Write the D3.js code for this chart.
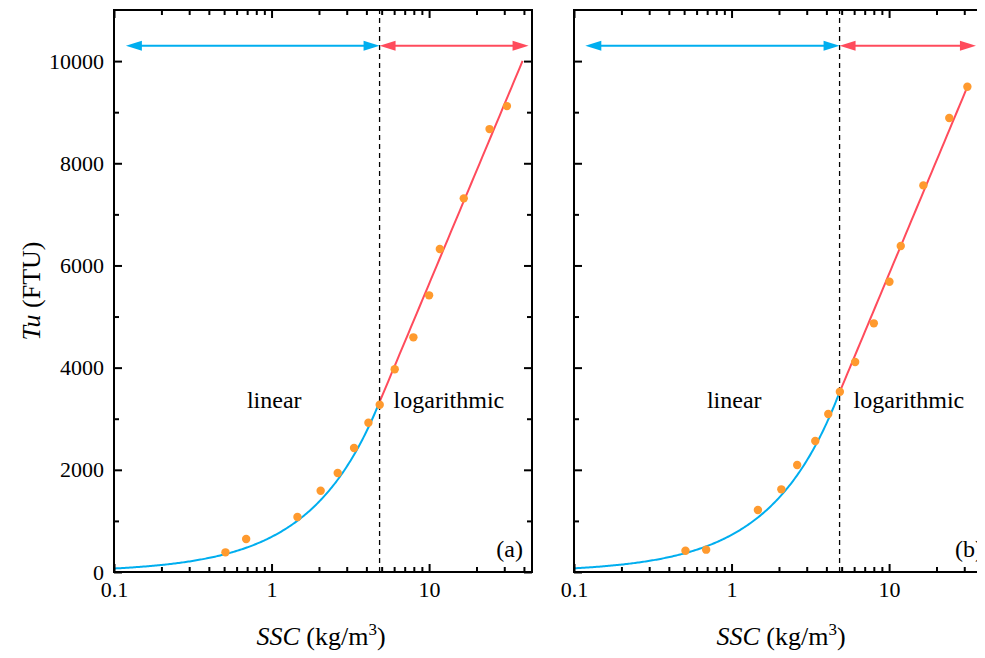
<!DOCTYPE html>
<html>
<head>
<meta charset="utf-8">
<script src="https://cdn.jsdelivr.net/npm/d3@7"></script>
</head>
<body>
<svg id="chart" width="985" height="658"></svg>
<script>
// Measured turbidity (Tu, FTU) against suspended sediment concentration (SSC, kg/m3)
const panelLabels = ["(a)", "(b)"];

const sscA = [0.51, 0.69, 1.46, 2.05, 2.63, 3.34, 4.12, 4.86, 6.05, 7.95, 10.0, 11.7, 16.6, 24.2, 31.2];
const tuA  = [385, 646, 1076, 1591, 1937, 2427, 2922, 3274, 3967, 4593, 5415, 6321, 7313, 8669, 9119];

const sscB = [0.51, 0.69, 1.47, 2.07, 2.61, 3.40, 4.11, 4.87, 6.09, 8.0, 10.05, 11.86, 16.5, 24.1, 31.4];
const tuB  = [417, 437, 1213, 1618, 2094, 2564, 3092, 3528, 4110, 4867, 5681, 6380, 7567, 8885, 9497];

// Piecewise fits: Tu = k * SSC below the break, Tu = c * log10(SSC) + d above it
const breakSSC   = [4.85, 4.85];
const linSlope   = [687, 726];
const logCoef    = [7354, 7370];
const logConst   = [-1715, -1536];
const fitStart   = [0.1, 0.1];
const fitEnd     = [39.2, 31.4];

// Range arrows drawn above the data
const arrowTu    = [10300, 10300];
const arrowStart = [0.119, 0.118];
const arrowEnd   = [42.8, 35.6];

const xDomain = [0.1, 45];
const yDomain = [0, 11000];
const xMajor = [0.1, 1, 10];
const xMinor = [0.2,0.3,0.4,0.5,0.6,0.7,0.8,0.9,2,3,4,5,6,7,8,9,20,30,40];
const yMajor = [0, 2000, 4000, 6000, 8000, 10000];
const yMinor = [1000, 3000, 5000, 7000, 9000];

const BLUE = "#00aeef", RED = "#ff4b5c", ORANGE = "#ff9a2e";

const svgEl = d3.select("#chart");
// shift the drawing so it starts at the window's top-left corner despite the page margin
const box = svgEl.node().getBoundingClientRect();
const svg = svgEl.append("g").attr("transform", `translate(${-box.left},${-box.top})`);

const panelW = 418, panelH = 562, plotTop = 10;
const panelX = [114, 574];

const serifText = (sel, size) => sel
  .style("font-family", "'Liberation Serif'")
  .attr("font-size", size)
  .attr("fill", "#000");

function drawPanel(i, ssc, tu) {
  const x0 = panelX[i];
  const x = d3.scaleLog().domain(xDomain).range([x0, x0 + panelW]);
  const y = d3.scaleLinear().domain(yDomain).range([plotTop + panelH, plotTop]);
  const g = svg.append("g");

  // fitted curves
  const linPts = d3.range(0, 201).map(j => {
    const s = Math.exp(Math.log(fitStart[i]) + (Math.log(breakSSC[i]) - Math.log(fitStart[i])) * j / 200);
    return [s, linSlope[i] * s];
  });
  const logPts = d3.range(0, 51).map(j => {
    const s = Math.exp(Math.log(breakSSC[i]) + (Math.log(fitEnd[i]) - Math.log(breakSSC[i])) * j / 50);
    return [s, logCoef[i] * Math.log10(s) + logConst[i]];
  });
  const line = d3.line().x(d => x(d[0])).y(d => y(d[1]));
  g.append("path").attr("d", line(linPts)).attr("fill", "none")
    .attr("stroke", BLUE).attr("stroke-width", 2);
  g.append("path").attr("d", line(logPts)).attr("fill", "none")
    .attr("stroke", RED).attr("stroke-width", 2);

  // dashed break line
  g.append("line")
    .attr("x1", x(breakSSC[i])).attr("x2", x(breakSSC[i]))
    .attr("y1", y(yDomain[0])).attr("y2", y(yDomain[1]))
    .attr("stroke", "#000").attr("stroke-width", 1.3).attr("stroke-dasharray", "5,4");

  // measured points
  g.selectAll("circle.pt").data(ssc.map((s, j) => [s, tu[j]])).join("circle")
    .attr("class", "pt")
    .attr("cx", d => x(d[0])).attr("cy", d => y(d[1])).attr("r", 4.2)
    .attr("fill", ORANGE);

  // double-headed range arrows
  const ay = y(arrowTu[i]);
  const head = (tipX, dir, color) => {
    const L = 16, W = 5;
    g.append("path")
      .attr("d", `M${tipX},${ay}L${tipX - dir * L},${ay - W}L${tipX - dir * L},${ay + W}Z`)
      .attr("fill", color);
  };
  const seg = (a, b, color) => {
    g.append("line").attr("x1", x(a) + 8).attr("x2", x(b) - 8)
      .attr("y1", ay).attr("y2", ay).attr("stroke", color).attr("stroke-width", 2);
    head(x(a), -1, color);
    head(x(b), 1, color);
  };
  seg(arrowStart[i], breakSSC[i], BLUE);
  seg(breakSSC[i], arrowEnd[i], RED);

  // axes with inward ticks on all four sides
  const styleAxis = sel => {
    sel.attr("font-family", null).attr("font-size", null);
    sel.select(".domain").remove();
    sel.selectAll(".tick line").attr("stroke", "#000").attr("stroke-width", 2);
    sel.selectAll(".tick text").call(serifText, 22);
  };
  const yb = plotTop + panelH;
  g.append("g").attr("transform", `translate(0,${yb})`)
    .call(d3.axisBottom(x).tickValues(xMajor).tickSize(-8).tickPadding(9)
      .tickFormat(d => d3.format("~g")(d))).call(styleAxis);
  g.append("g").attr("transform", `translate(0,${yb})`)
    .call(d3.axisBottom(x).tickValues(xMinor).tickSize(-5).tickFormat("")).call(styleAxis);
  g.append("g").attr("transform", `translate(0,${plotTop})`)
    .call(d3.axisTop(x).tickValues(xMajor).tickSize(-8).tickFormat("")).call(styleAxis);
  g.append("g").attr("transform", `translate(0,${plotTop})`)
    .call(d3.axisTop(x).tickValues(xMinor).tickSize(-5).tickFormat("")).call(styleAxis);

  g.append("g").attr("transform", `translate(${x0},0)`)
    .call(d3.axisLeft(y).tickValues(yMajor).tickSize(-8).tickPadding(10)
      .tickFormat(i === 0 ? d3.format("d") : "")).call(styleAxis);
  g.append("g").attr("transform", `translate(${x0},0)`)
    .call(d3.axisLeft(y).tickValues(yMinor).tickSize(-5).tickFormat("")).call(styleAxis);
  g.append("g").attr("transform", `translate(${x0 + panelW},0)`)
    .call(d3.axisRight(y).tickValues(yMajor).tickSize(-8).tickFormat("")).call(styleAxis);
  g.append("g").attr("transform", `translate(${x0 + panelW},0)`)
    .call(d3.axisRight(y).tickValues(yMinor).tickSize(-5).tickFormat("")).call(styleAxis);

  // frame
  g.append("rect").attr("x", x0).attr("y", plotTop).attr("width", panelW).attr("height", panelH)
    .attr("fill", "none").attr("stroke", "#000").attr("stroke-width", 2);

  // region labels
  g.append("text").attr("x", x(1.04)).attr("y", 408).attr("text-anchor", "middle")
    .call(serifText, 24).text("linear");
  g.append("text").attr("x", x(breakSSC[i]) + 14).attr("y", 408)
    .call(serifText, 24).text("logarithmic");
  g.append("text").attr("x", Math.min(x0 + panelW - 9, 983)).attr("y", 557)
    .attr("text-anchor", "end").call(serifText, 24).text(panelLabels[i]);

  // x-axis title
  const t = g.append("text").attr("x", x0 + panelW / 2 - 2).attr("y", 645)
    .attr("text-anchor", "middle").call(serifText, 26);
  t.append("tspan").attr("font-style", "italic").text("SSC");
  t.append("tspan").text(" (kg/m");
  t.append("tspan").attr("font-size", 17).attr("dy", -10).text("3");
  t.append("tspan").attr("dy", 10).text(")");
}

drawPanel(0, sscA, tuA);
drawPanel(1, sscB, tuB);

// y-axis title
const yt = svg.append("text").attr("transform", "translate(40,291) rotate(-90)")
  .attr("text-anchor", "middle").call(serifText, 26);
yt.append("tspan").attr("font-style", "italic").text("Tu");
yt.append("tspan").text(" (FTU)");
</script>
</body>
</html>
